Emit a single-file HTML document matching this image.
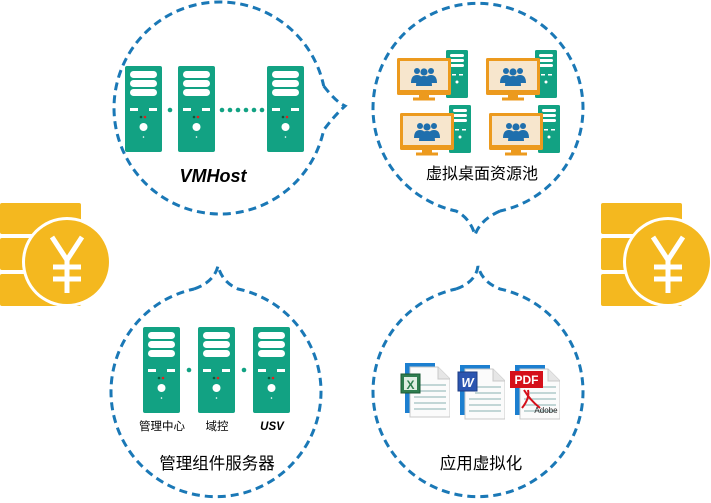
<!DOCTYPE html>
<html><head><meta charset="utf-8"><style>
html,body{margin:0;padding:0;background:#fff;}
svg{display:block;}
text{font-family:"Liberation Sans","Noto Sans CJK SC",sans-serif;}
</style></head><body>
<svg width="711" height="503" viewBox="0 0 711 503" xmlns="http://www.w3.org/2000/svg">
<defs>
<symbol id="srv" viewBox="0 0 37 86" width="37" height="86">
<rect x="0" y="0" width="37" height="86" rx="2" fill="#12a283"/>
<rect x="5" y="5" width="27" height="7" rx="3.5" fill="#fff"/>
<rect x="5" y="14" width="27" height="7" rx="3.5" fill="#fff"/>
<rect x="5" y="23" width="27" height="7" rx="3.5" fill="#fff"/>
<rect x="5" y="42" width="8" height="3" fill="#fff"/>
<rect x="24" y="42" width="8" height="3" fill="#fff"/>
<circle cx="16" cy="51" r="1.3" fill="#0b5a3a"/>
<circle cx="20" cy="51" r="1.3" fill="#e02020"/>
<circle cx="18.5" cy="61" r="4" fill="#fff"/>
<circle cx="18.5" cy="71" r="0.8" fill="#fff"/>
</symbol>
<symbol id="pc" viewBox="0 0 72 52" width="72" height="52">
<rect x="49" y="0" width="22" height="48" rx="1.5" fill="#12a283"/>
<rect x="53" y="4" width="14" height="3" rx="1.5" fill="#fff"/>
<rect x="53" y="9" width="14" height="3" rx="1.5" fill="#fff"/>
<rect x="53" y="14" width="14" height="3" rx="1.5" fill="#fff"/>
<rect x="55" y="24" width="4" height="1.5" fill="#fff"/>
<rect x="62" y="24" width="4" height="1.5" fill="#fff"/>
<circle cx="60" cy="32" r="1.5" fill="#fff"/>
<rect x="0" y="8" width="54" height="37" rx="1.5" fill="#ec9a1e"/>
<rect x="3" y="11" width="48" height="29" fill="#f7e6cd"/>
<circle cx="20" cy="21" r="3" fill="#1f6fad"/><circle cx="34" cy="21" r="3" fill="#1f6fad"/>
<path d="M14 33 Q14 25 20 25 Q26 25 26 33Z" fill="#1f6fad"/>
<path d="M28 33 Q28 25 34 25 Q40 25 40 33Z" fill="#1f6fad"/>
<circle cx="27" cy="22" r="3.6" fill="#1f6fad"/>
<path d="M19 36 Q19 26 27 26 Q35 26 35 36Z" fill="#1f6fad"/>
<rect x="22" y="45" width="10" height="3" fill="#ec9a1e"/>
<rect x="16" y="47.5" width="22" height="3" fill="#ec9a1e"/>
</symbol>
<symbol id="doc" viewBox="0 0 50 55" width="50" height="55">
<rect x="5" y="0" width="30" height="50" fill="#1c7fd0"/>
<path d="M10 4 H38 L50 16 V54 H10Z" fill="#fbfbfb" stroke="#c8c8c8" stroke-width="1"/>
<path d="M38 4 V16 H50" fill="#e6e6e6" stroke="#c8c8c8" stroke-width="1"/>
<g stroke="#9fbfc0" stroke-width="1.3">
<line x1="20" y1="22" x2="46" y2="22"/><line x1="20" y1="28" x2="46" y2="28"/>
<line x1="14" y1="34" x2="46" y2="34"/><line x1="14" y1="40" x2="46" y2="40"/>
<line x1="14" y1="46" x2="46" y2="46"/>
</g>
</symbol>
<symbol id="coin" viewBox="0 0 111 105" width="111" height="105">
<rect x="0" y="0" width="81" height="31" rx="2" fill="#f4b81f"/>
<rect x="0" y="35" width="81" height="32" rx="2" fill="#f4b81f"/>
<rect x="0" y="71" width="81" height="32" rx="2" fill="#f4b81f"/>
<circle cx="67" cy="59" r="45" fill="#fff"/>
<circle cx="67" cy="59" r="42" fill="#f4b81f"/>
<g stroke="#fff" stroke-width="5" fill="none">
<path d="M52 34 L67 57 L82 34"/>
<line x1="67" y1="57" x2="67" y2="90"/>
<line x1="53" y1="64" x2="81" y2="64"/>
<line x1="53" y1="76" x2="81" y2="76"/>
</g>
</symbol>
</defs>

<g fill="none" stroke="#1a78b6" stroke-width="3" stroke-dasharray="8 5">
<path d="M323.7,86 Q336,102 345,106 Q334,116 323.7,130 A106,106 0 1,1 323.7,86"/>
<path d="M500,211 Q480,220 475,235 Q470,218 456,211 A105,105 0 1,1 500,211"/>
<path d="M194,289 Q214,282 218,266 Q222,282 238,289 A105,105 0 1,1 194,289"/>
<path d="M456,289 Q476,282 478,266 Q482,282 500,289 A105,105 0 1,1 456,289"/>
</g>

<use href="#coin" x="0" y="203"/>
<use href="#coin" x="601" y="203"/>

<use href="#srv" x="125" y="66"/>
<use href="#srv" x="178" y="66"/>
<use href="#srv" x="267" y="66"/>
<g fill="#12a283">
<circle cx="170" cy="110" r="2.3"/>
<circle cx="222" cy="110" r="2.3"/><circle cx="230" cy="110" r="2.3"/><circle cx="238" cy="110" r="2.3"/><circle cx="246" cy="110" r="2.3"/><circle cx="254" cy="110" r="2.3"/><circle cx="262" cy="110" r="2.3"/>
<circle cx="189" cy="370" r="2.3"/><circle cx="244" cy="370" r="2.3"/>
</g>
<text x="213" y="182" font-size="18" font-weight="bold" font-style="italic" text-anchor="middle">VMHost</text>

<use href="#pc" x="397" y="50"/>
<use href="#pc" x="486" y="50"/>
<use href="#pc" x="400" y="105"/>
<use href="#pc" x="489" y="105"/>
<text x="482" y="179" font-size="16" text-anchor="middle">虚拟桌面资源池</text>

<use href="#srv" x="143" y="327"/>
<use href="#srv" x="198" y="327"/>
<use href="#srv" x="253" y="327"/>
<text x="162" y="430" font-size="11.5" text-anchor="middle">管理中心</text>
<text x="217" y="430" font-size="11.5" text-anchor="middle">域控</text>
<text x="272" y="430" font-size="11.5" font-weight="bold" font-style="italic" text-anchor="middle">USV</text>
<text x="217" y="469" font-size="16.5" text-anchor="middle">管理组件服务器</text>

<use href="#doc" x="400" y="363"/>
<rect x="401" y="374" width="19" height="19" fill="#2e7d4f" stroke="#1b5a36"/>
<rect x="404" y="377" width="13" height="13" fill="#dfeee3"/>
<text x="410.5" y="389" font-size="12" font-weight="bold" fill="#2e7d4f" text-anchor="middle">X</text>
<use href="#doc" x="455" y="365"/>
<rect x="458" y="372" width="19" height="19" fill="#2b55b0" stroke="#1d3d85"/>
<text x="467.5" y="387" font-size="13" font-weight="bold" font-style="italic" fill="#fff" text-anchor="middle">W</text>
<use href="#doc" x="510" y="365"/>
<rect x="510" y="371" width="33" height="17" fill="#d5101a"/>
<text x="526.5" y="384" font-size="12" font-weight="bold" fill="#fff" text-anchor="middle">PDF</text>
<path d="M524 390 Q530 400 540 408 M522 408 Q530 398 528 390" stroke="#d5101a" stroke-width="2" fill="none"/>
<text x="546" y="413" font-size="8" fill="#222" text-anchor="middle">Adobe</text>
<text x="481" y="469" font-size="16.5" text-anchor="middle">应用虚拟化</text>
</svg>
</body></html>
